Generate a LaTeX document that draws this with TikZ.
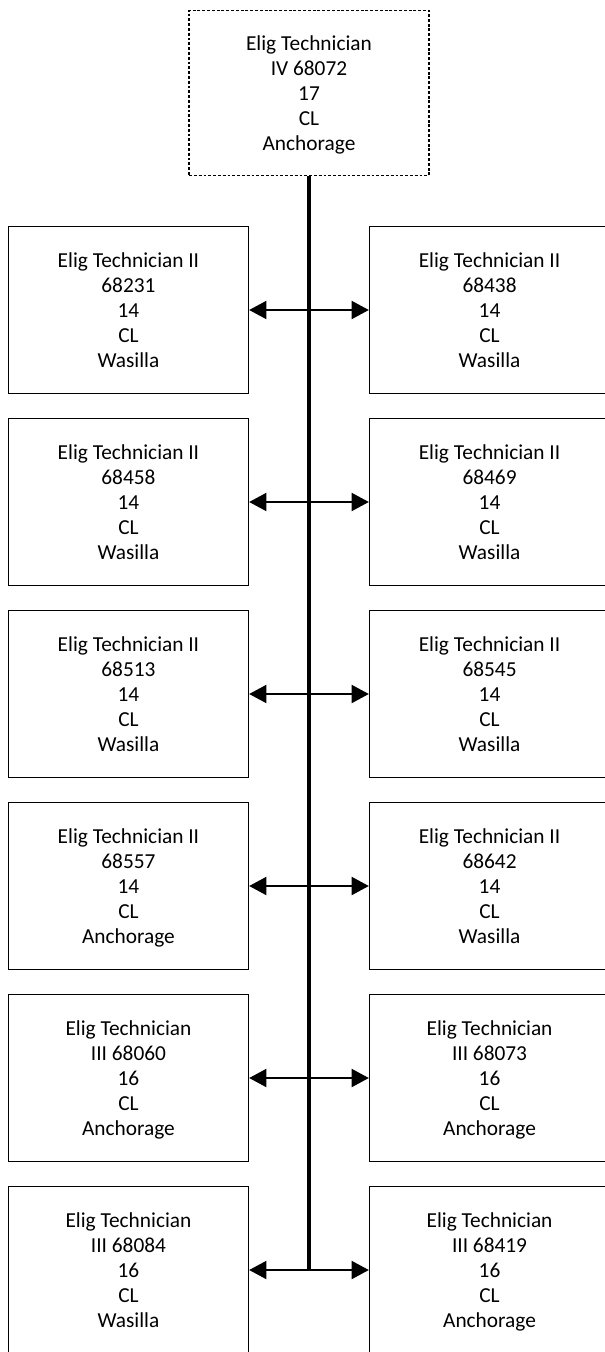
\documentclass[tikz,border=0pt]{standalone}
\usepackage{fontspec}
\setmainfont{Carlito}
\usepackage{tikz}
\usetikzlibrary{positioning,arrows.meta}

\begin{document}
\begin{tikzpicture}[node distance=17.3pt,
    >={Triangle[length=13pt,width=13.5pt]},
    box/.style={rectangle, draw, line width=1.2pt, minimum width=179.8pt, minimum height=125.5pt, align=center, text depth=0pt, font=\fontsize{16pt}{18.75pt}\selectfont},
    headbox/.style={box, line width=1pt, dash pattern=on 2.2pt off 1.4pt, minimum height=124pt},
    link/.style={<->, line width=1.7pt}]
    \useasboundingbox (-231.75pt,69.75pt) rectangle (222pt,-944.25pt);

    \node (head) [headbox] at (0,0) {Elig Technician\\IV 68072\\17\\CL\\Anchorage};

    \node (l1) [box] at (-135.4pt,-162.75pt) {Elig Technician II\\68231\\14\\CL\\Wasilla};
    \node (l2) [box, below=of l1] {Elig Technician II\\68458\\14\\CL\\Wasilla};
    \node (l3) [box, below=of l2] {Elig Technician II\\68513\\14\\CL\\Wasilla};
    \node (l4) [box, below=of l3] {Elig Technician II\\68557\\14\\CL\\Anchorage};
    \node (l5) [box, below=of l4] {Elig Technician\\III 68060\\16\\CL\\Anchorage};
    \node (l6) [box, below=of l5] {Elig Technician\\III 68084\\16\\CL\\Wasilla};

    \node (r1) [box] at (135.4pt,-162.75pt) {Elig Technician II\\68438\\14\\CL\\Wasilla};
    \node (r2) [box, below=of r1] {Elig Technician II\\68469\\14\\CL\\Wasilla};
    \node (r3) [box, below=of r2] {Elig Technician II\\68545\\14\\CL\\Wasilla};
    \node (r4) [box, below=of r3] {Elig Technician II\\68642\\14\\CL\\Wasilla};
    \node (r5) [box, below=of r4] {Elig Technician\\III 68073\\16\\CL\\Anchorage};
    \node (r6) [box, below=of r5] {Elig Technician\\III 68419\\16\\CL\\Anchorage};

    \coordinate (trunk) at (head.south |- l6.east);
    \draw [line width=2.3pt] (head.south) -- (trunk);

    \draw [link] (l1.east) -- (r1.west);
    \draw [link] (l2.east) -- (r2.west);
    \draw [link] (l3.east) -- (r3.west);
    \draw [link] (l4.east) -- (r4.west);
    \draw [link] (l5.east) -- (r5.west);
    \draw [link] (l6.east) -- (r6.west);
\end{tikzpicture}
\end{document}
